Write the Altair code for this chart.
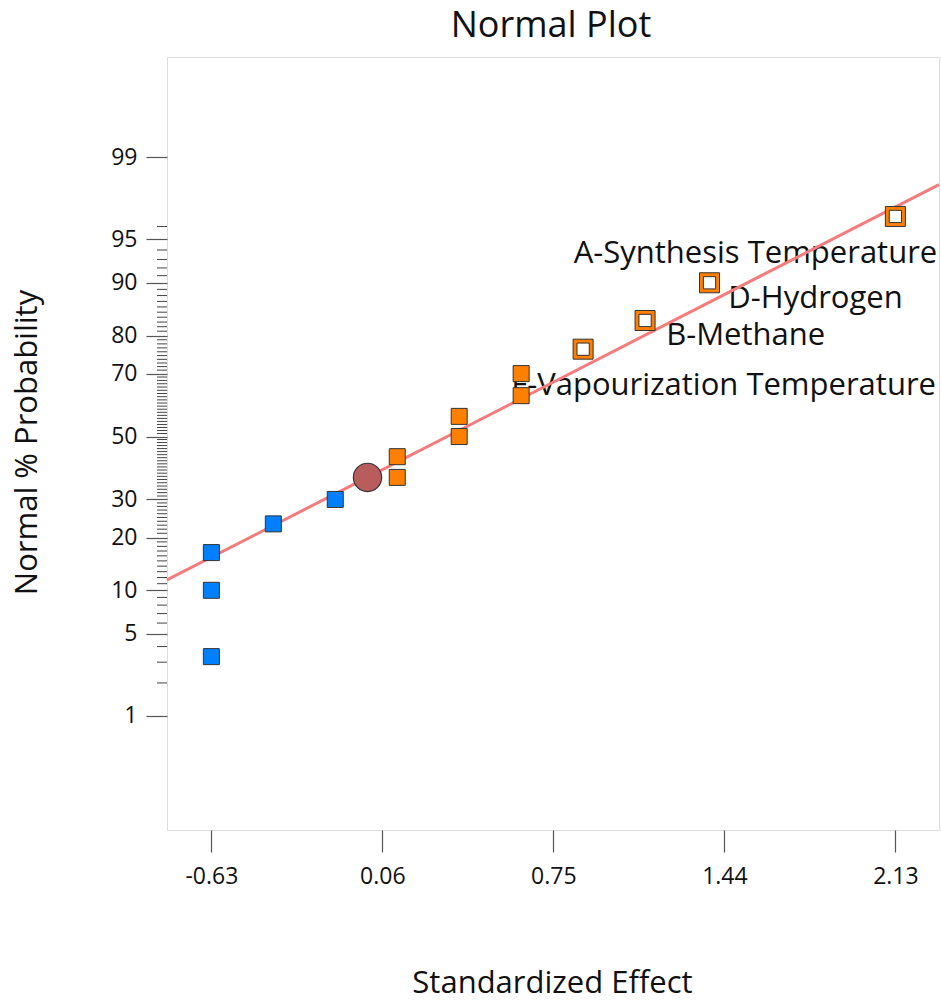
import altair as alt
import pandas as pd
from statistics import NormalDist

_nd = NormalDist()


def probit(p):
    return _nd.inv_cdf(p / 100.0)


# ---- data ----
effect_x = [-0.63, -0.63, -0.63, -0.38, -0.13, 0.12, 0.12, 0.37, 0.37, 0.62, 0.62, 0.87, 1.12, 1.38, 2.13]
normal_pct = [3.33, 10.0, 16.67, 23.33, 30.0, 36.67, 43.33, 50.0, 56.67, 63.33, 70.0, 76.67, 83.33, 90.0, 96.67]
effect_sign = ["negative"] * 5 + ["positive"] * 10
effect_selected = [False] * 11 + [True] * 4

error_x = [0.0]
error_pct = [36.67]

fit_x = [-0.809, 2.306]
fit_pct = [11.6, 98.21]

label_text = ["A-Synthesis Temperature", "D-Hydrogen", "B-Methane", "F-Vapourization Temperature"]
label_x = [2.299, 1.456, 1.205, 0.580]
label_pct = [92.6, 85.8, 77.8, 63.6]
label_side = ["right", "left", "left", "left"]

chart_title = ["Normal Plot"]

major_pct = [1, 5, 10, 20, 30, 50, 70, 80, 90, 95, 99]
minor_pct = [p for p in range(2, 97) if p not in major_pct]
x_ticks = [-0.63, 0.06, 0.75, 1.44, 2.13]
x_domain = [-0.809, 2.306]
y_domain_pct = [0.052, 99.922]

FONT = "Open Sans"
W, H = 772, 773

pts = pd.DataFrame({"x": effect_x, "z": [probit(p) for p in normal_pct],
                    "sign": effect_sign, "sel": effect_selected})
err = pd.DataFrame({"x": error_x, "z": [probit(p) for p in error_pct]})
fit = pd.DataFrame({"x": fit_x, "z": [probit(p) for p in fit_pct]})
labs = pd.DataFrame({"x": label_x, "z": [probit(p) for p in label_pct],
                     "text": label_text, "side": label_side})
minor = pd.DataFrame({"z": [probit(p) for p in minor_pct]})
ttl = pd.DataFrame({"text": chart_title})

xscale = alt.Scale(domain=x_domain, nice=False, zero=False)
yscale = alt.Scale(domain=[probit(v) for v in y_domain_pct], nice=False, zero=False)

xaxis = alt.Axis(values=x_ticks, labelExpr="replace(format(datum.value, '.2f'), '\u2212', '-')",
                 tickSize=22, tickColor="#555", tickWidth=1.2,
                 domain=False, grid=False, labelFont=FONT, labelFontSize=23, labelColor="#111",
                 labelPadding=13, title="Standardized Effect", titleFont=FONT, titleFontSize=31,
                 titleFontWeight="normal", titleColor="#111", titleX=385, titleY=153,
                 titleBaseline="middle", titleAlign="center")
yaxis = alt.Axis(values=[probit(p) for p in major_pct],
                 labelExpr="format(round(cumulativeNormal(datum.value) * 100), 'd')",
                 tickSize=21, tickColor="#555", tickWidth=1.2, domain=False, grid=False,
                 labelFont=FONT, labelFontSize=23, labelColor="#111", labelPadding=9,
                 title="Normal % Probability", titleFont=FONT, titleFontSize=31,
                 titleFontWeight="normal", titleColor="#111", titleAngle=270,
                 titleX=-140, titleY=385, titleBaseline="middle", titleAlign="center")

X = alt.X("x:Q", scale=xscale, axis=xaxis)
Y = alt.Y("z:Q", scale=yscale, axis=yaxis)
Xs = alt.X("x:Q", scale=xscale)
Ys = alt.Y("z:Q", scale=yscale)

line = alt.Chart(fit).mark_line(color="#f47c7c", strokeWidth=3).encode(x=X, y=Y)

minor_ticks = alt.Chart(minor).mark_rule(color="#444", strokeWidth=1).encode(
    x=alt.value(-10), x2=alt.value(0), y=Ys)

text_right = alt.Chart(labs).transform_filter("datum.side == 'right'").mark_text(
    align="right", baseline="alphabetic", font=FONT, fontSize=31, color="#111"
).encode(x=Xs, y=Ys, text="text:N")
text_left = alt.Chart(labs).transform_filter("datum.side == 'left'").mark_text(
    align="left", baseline="alphabetic", font=FONT, fontSize=31, color="#111"
).encode(x=Xs, y=Ys, text="text:N")

title_text = alt.Chart(ttl).mark_text(
    align="center", baseline="middle", font=FONT, fontSize=36, color="#111"
).encode(x=alt.value(W / 2 - 2), y=alt.value(-31), text="text:N")

circle = alt.Chart(err).mark_point(shape="circle", filled=True, size=800, fill="#b85c5c",
                                   stroke="#333", strokeWidth=1.2, opacity=1).encode(x=Xs, y=Ys)

solid = alt.Chart(pts).transform_filter("!datum.sel").mark_square(
    size=256, stroke="#333", strokeWidth=1, opacity=1).encode(
    x=Xs, y=Ys,
    color=alt.Color("sign:N", scale=alt.Scale(domain=["negative", "positive"],
                                              range=["#0080ff", "#ff8000"]), legend=None))

open_outer = alt.Chart(pts).transform_filter("datum.sel").mark_square(
    size=400, fill="#ff8000", stroke="#333", strokeWidth=1, opacity=1).encode(x=Xs, y=Ys)
open_inner = alt.Chart(pts).transform_filter("datum.sel").mark_square(
    size=150, fill="white", stroke="#333", strokeWidth=1, opacity=1).encode(x=Xs, y=Ys)

chart = alt.layer(
    text_right, text_left, line, minor_ticks, circle, solid, open_outer, open_inner, title_text
).properties(
    width=W, height=H,
    autosize=alt.AutoSizeParams(type="none"),
    padding={"left": 167, "top": 57, "right": 2, "bottom": 170},
).configure_view(stroke="#555", strokeWidth=1.5).configure(background="white")

chart.save("out.html", embed_options={"renderer": "svg", "actions": False})
